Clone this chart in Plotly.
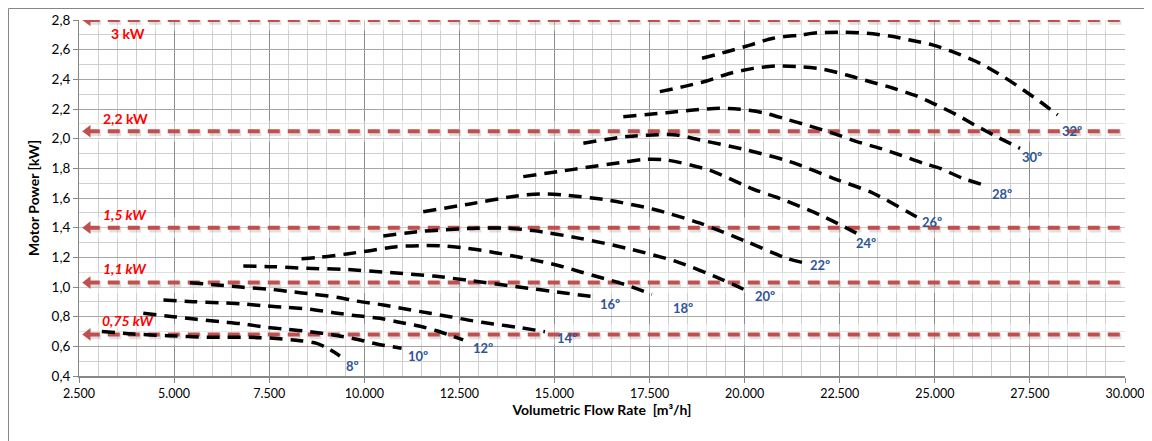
import plotly.graph_objects as go

# ---------------- data ----------------
flow_08 = [3100, 3930, 4810, 5940, 7000, 7610, 8310, 8750, 9050, 9360]
power_08 = [0.700, 0.683, 0.672, 0.661, 0.661, 0.654, 0.638, 0.620, 0.585, 0.535]

flow_10 = [4190, 4980, 5590, 6210, 6820, 7430, 7960, 8570, 9190, 9800, 10330, 10980]
power_10 = [0.823, 0.800, 0.782, 0.766, 0.751, 0.728, 0.715, 0.699, 0.677, 0.648, 0.616, 0.587]

flow_12 = [4720, 5500, 6210, 6820, 7430, 7960, 8570, 9190, 9800, 10410, 10850, 11470, 11900, 12300, 12600]
power_12 = [0.913, 0.901, 0.894, 0.886, 0.872, 0.863, 0.850, 0.827, 0.806, 0.789, 0.766, 0.735, 0.705, 0.670, 0.643]

flow_14 = [5420, 6120, 6820, 7520, 8050, 8660, 9360, 9800, 10500, 11120, 11730, 12250, 12780, 13390, 14090, 14750]
power_14 = [1.029, 1.014, 0.998, 0.985, 0.969, 0.951, 0.928, 0.905, 0.879, 0.850, 0.823, 0.800, 0.775, 0.751, 0.726, 0.699]

flow_16 = [6820, 7610, 8490, 9450, 10680, 11820, 12780, 14010, 15320, 16110]
power_16 = [1.142, 1.137, 1.126, 1.119, 1.097, 1.074, 1.043, 1.002, 0.958, 0.932]

flow_18 = [8350, 8840, 9540, 10150, 10850, 11470, 12080, 12690, 13310, 13920, 14530, 15150, 15670, 16280, 16810, 17560]
power_18 = [1.190, 1.200, 1.223, 1.245, 1.272, 1.279, 1.277, 1.261, 1.238, 1.209, 1.178, 1.142, 1.103, 1.059, 1.020, 0.951]

flow_20 = [10500, 11550, 12340, 12960, 13740, 14450, 15670, 16900, 18210, 19440, 19970]
power_20 = [1.344, 1.376, 1.389, 1.396, 1.396, 1.380, 1.328, 1.261, 1.171, 1.047, 0.985]

flow_22 = [11550, 12780, 14010, 14620, 15230, 16370, 17600, 18830, 20050, 21100, 21540]
power_22 = [1.508, 1.560, 1.614, 1.627, 1.620, 1.587, 1.524, 1.430, 1.306, 1.194, 1.164]

flow_24 = [14180, 15500, 16900, 17420, 17950, 19090, 20230, 20840, 21980, 23120]
power_24 = [1.744, 1.793, 1.845, 1.861, 1.856, 1.786, 1.659, 1.605, 1.486, 1.339]

flow_26 = [15760, 16900, 17600, 18210, 18830, 20050, 21190, 22330, 23380, 24520, 24700]
power_26 = [1.969, 2.014, 2.025, 2.025, 1.991, 1.924, 1.845, 1.733, 1.632, 1.474, 1.452]

flow_28 = [16810, 17950, 18650, 19350, 19880, 20490, 21100, 21720, 22330, 22950, 23560, 24090, 24700, 25140, 25730, 26290]
power_28 = [2.148, 2.175, 2.193, 2.205, 2.198, 2.175, 2.131, 2.085, 2.036, 1.980, 1.935, 1.890, 1.834, 1.800, 1.733, 1.688]

flow_30 = [17770, 18390, 19000, 19620, 20230, 20840, 21460, 22070, 22680, 23300, 23910, 24520, 25050, 25580, 26100, 26630, 27240]
power_30 = [2.317, 2.351, 2.389, 2.441, 2.474, 2.490, 2.485, 2.468, 2.429, 2.384, 2.340, 2.288, 2.227, 2.160, 2.085, 2.013, 1.935]

flow_32 = [18880, 19530, 20140, 20750, 21460, 21980, 22590, 23210, 23820, 24440, 24960, 25580, 26190, 26800, 27330, 27770, 28230]
power_32 = [2.542, 2.586, 2.631, 2.677, 2.699, 2.715, 2.717, 2.710, 2.692, 2.660, 2.631, 2.575, 2.508, 2.418, 2.328, 2.249, 2.160]

angle_labels = ["8º", "10º", "12º", "14º", "16º", "18º", "20º", "22º", "24º", "26º", "28º", "30º", "32º"]

motor_levels = [2.80, 2.05, 1.40, 1.03, 0.68]
motor_labels = ["3 kW", "2,2 kW", "1,5 kW", "1,1 kW", "0,75 kW"]

x_range = [2500, 30000]
y_range = [0.4, 2.8]

# ---------------- label placement (not data) ----------------
angle_label_pos = [(9700, 0.468), (11410, 0.535), (13120, 0.589), (15330, 0.656),
                   (16460, 0.886), (18380, 0.859), (20540, 0.940), (21980, 1.149),
                   (23190, 1.297), (24930, 1.438), (26770, 1.627), (27560, 1.877),
                   (28610, 2.052)]
motor_label_pos = [(3790, 2.706), (3710, 2.139), (3710, 1.486), (3710, 1.122), (3790, 0.771)]
motor_label_italic = [False, False, True, True, True]

curves = [(flow_08, power_08), (flow_10, power_10), (flow_12, power_12), (flow_14, power_14),
          (flow_16, power_16), (flow_18, power_18), (flow_20, power_20), (flow_22, power_22),
          (flow_24, power_24), (flow_26, power_26), (flow_28, power_28), (flow_30, power_30),
          (flow_32, power_32)]

FONT = "Lato, Carlito, Calibri, sans-serif"
RED = "#C0504D"
BLUE = "#2E5597"

fig = go.Figure()

# faded bands around the motor lines (glow effect)
for lvl in motor_levels:
    fig.add_shape(type="rect", xref="x", yref="y", x0=x_range[0], x1=x_range[1],
                  y0=lvl - 0.07, y1=lvl + 0.07, fillcolor="rgba(255,255,255,0.45)",
                  line_width=0, layer="between")

# motor power reference lines
line_start = x_range[0] + 230
for lvl in motor_levels:
    fig.add_trace(go.Scatter(x=[line_start + 40, x_range[1]], y=[lvl - 0.012, lvl - 0.012],
                             mode="lines", hoverinfo="skip", showlegend=False,
                             line=dict(color="rgba(0,0,0,0.12)", width=6, dash="12px,8px")))
    fig.add_trace(go.Scatter(x=[line_start, x_range[1]], y=[lvl, lvl], mode="lines",
                             hoverinfo="skip", showlegend=False,
                             line=dict(color=RED, width=4, dash="12px,8px")))
    fig.add_trace(go.Scatter(x=[line_start], y=[lvl], mode="markers", hoverinfo="skip",
                             showlegend=False,
                             marker=dict(symbol="triangle-left", size=11, color=RED)))

# fan curves
for (fx, py), name in zip(curves, angle_labels):
    fig.add_trace(go.Scatter(x=fx, y=py, mode="lines", name=name, showlegend=False,
                             line=dict(color="black", width=3.5, dash="13px,8px",
                                       shape="spline", smoothing=0.8)))

for name, (ax_, ay_) in zip(angle_labels, angle_label_pos):
    fig.add_annotation(x=ax_, y=ay_, text=f"<b>{name}</b>", showarrow=False,
                       font=dict(family=FONT, size=13, color=BLUE))

for txt, (ax_, ay_), it in zip(motor_labels, motor_label_pos, motor_label_italic):
    t = f"<b><i>{txt}</i></b>" if it else f"<b>{txt}</b>"
    fig.add_annotation(x=ax_, y=ay_, text=t, showarrow=False,
                       font=dict(family=FONT, size=14, color="#FF0000"))

# outer chart border (left and top edges visible in the reference)
fig.add_shape(type="rect", xref="paper", yref="paper", x0=-0.0674, x1=1.2, y0=-0.5, y1=1.0323,
              line=dict(color="#868686", width=1), fillcolor="rgba(0,0,0,0)", layer="above")

# the page body adds an 8px offset; margins compensate so the plot area sits where the reference has it
fig.update_layout(
    width=1144, height=433,
    margin=dict(l=71, r=27, t=12, b=65, autoexpand=False),
    paper_bgcolor="white", plot_bgcolor="white",
    separators=",.",
    font=dict(family=FONT, size=13, color="#000000"),
    showlegend=False,
    xaxis=dict(range=x_range, autorange=False, tick0=2500, dtick=2500, tickformat=",d",
               automargin=False,
               showgrid=True, gridcolor="#8c8c8c", gridwidth=1,
               minor=dict(tick0=2500, dtick=500, showgrid=True, gridcolor="#cfcfcf", gridwidth=1),
               showline=True, linecolor="#868686", linewidth=2,
               ticks="outside", ticklen=5, tickcolor="#868686", zeroline=False,
               tickfont=dict(family=FONT, size=12.5),
               title=dict(text="<b>Volumetric Flow Rate &nbsp;[m³/h]</b>", standoff=5,
                          font=dict(family=FONT, size=14))),
    yaxis=dict(range=y_range, autorange=False, tick0=0.4, dtick=0.2, tickformat=".1f",
               automargin=False,
               showgrid=True, gridcolor="#a6a6a6", gridwidth=1,
               minor=dict(tick0=0.4, dtick=0.1, showgrid=True, gridcolor="#cfcfcf", gridwidth=1),
               showline=True, linecolor="#868686", linewidth=1,
               ticks="outside", ticklen=5, tickcolor="#868686", zeroline=False,
               tickfont=dict(family=FONT, size=13.5),
               title=dict(text="<b>Motor Power [kW]</b>", standoff=8,
                          font=dict(family=FONT, size=14))),
)

fig.write_html("out.html")
